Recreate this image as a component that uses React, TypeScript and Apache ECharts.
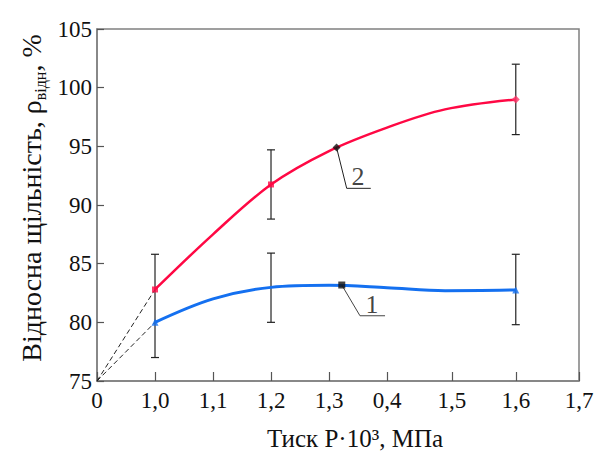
import React, { useEffect, useRef } from "react";
import * as echarts from "echarts";

// x axis is drawn in "position" units (the original axis is broken after 0)
const xTickLabels = ["0", "1,0", "1,1", "1,2", "1,3", "0,4", "1,5", "1,6", "1,7"];
const xTickPos = [0, 1, 2, 3, 4, 5, 6.12, 7.22, 8.31];

// curve 2 (red) and curve 1 (blue): [position, %]
const curve2 = [[1, 82.8], [2, 87.5], [3, 91.75], [4, 94.6], [5, 96.6], [6, 98.15], [7.22, 99.0]];
const curve1 = [[1, 80.0], [2, 82.0], [3, 82.98], [4, 83.15], [5, 82.95], [6, 82.7], [7.22, 82.76]];

const red2Points = [[1, 82.8], [3, 91.75]];
const red2End = [[7.22, 99.0]];
const blue1Points = [[1, 80.0], [7.22, 82.76]];
const keyMarker2 = [[4.13, 94.9]];
const keyMarker1 = [[4.22, 83.18]];

// error bars: [position, low, high]
const errorBars = [
  [1, 77.0, 85.8],
  [3, 88.8, 94.7],
  [3, 80.0, 85.9],
  [7.22, 96.0, 102.0],
  [7.22, 79.8, 85.8],
];

// extrapolation dashed lines
const dash2 = [[0, 75], [1, 82.8]];
const dash1 = [[0, 75], [1, 80.0]];

// leaders for labels
const leader2 = [[4.13, 94.9], [4.305, 91.42], [4.72, 91.42]];
const leader1 = [[4.22, 83.18], [4.534, 80.56], [4.966, 80.56]];
const labelPts = [
  { value: [4.5, 92.45], name: "2" },
  { value: [4.74, 81.5], name: "1" },
];

const FONT = "Liberation Serif, Times New Roman, serif";

export default function App() {
  const ref = useRef<HTMLDivElement>(null);
  useEffect(() => {
    if (!ref.current) return;
    const chart = echarts.init(ref.current, undefined, { renderer: "svg" });
    const fmtX = (v: number) => {
      let best = 0;
      for (let i = 0; i < xTickPos.length; i++) {
        if (Math.abs(xTickPos[i] - v) < Math.abs(xTickPos[best] - v)) best = i;
      }
      return xTickLabels[best];
    };
    chart.setOption({
      animation: false,
      backgroundColor: "#ffffff",
      textStyle: { fontFamily: FONT },
      grid: {
        left: 97,
        top: 29,
        right: 20,
        bottom: 71,
        show: true,
        borderColor: "#808080",
        borderWidth: 1.5,
        backgroundColor: "transparent",
      },
      xAxis: {
        type: "value",
        min: 0,
        max: 8.31,
        axisLine: { show: true, lineStyle: { color: "#808080", width: 1.5 } },
        axisTick: {
          show: true,
          inside: true,
          length: 9,
          customValues: xTickPos,
          lineStyle: { color: "#555", width: 1.2 },
        },
        axisLabel: {
          customValues: xTickPos,
          formatter: fmtX,
          color: "#111",
          fontSize: 23,
          fontFamily: FONT,
          margin: 8,
        },
        splitLine: { show: false },
      },
      yAxis: {
        type: "value",
        min: 75,
        max: 105,
        interval: 5,
        axisLine: { show: true, lineStyle: { color: "#808080", width: 1.5 } },
        axisTick: { show: true, inside: true, length: 7, lineStyle: { color: "#555", width: 1.2 } },
        axisLabel: { color: "#111", fontSize: 23, fontFamily: FONT, margin: 5 },
        splitLine: { show: false },
      },
      graphic: [
        {
          type: "text",
          x: 355,
          y: 438,
          style: {
            text: "Тиск P·10³, МПа",
            fontSize: 25,
            fontFamily: FONT,
            fill: "#111",
            align: "center",
            verticalAlign: "middle",
          },
        },
        {
          type: "text",
          x: 31,
          y: 198,
          rotation: Math.PI / 2,
          style: {
            text: "{a|Відносна щільність, ρ}{s|відн}{a|, %}",
            align: "center",
            verticalAlign: "middle",
            rich: {
              a: { fontSize: 28, fontFamily: FONT, fill: "#111", lineHeight: 34, verticalAlign: "middle" },
              s: { fontSize: 16, fontFamily: FONT, fill: "#111", lineHeight: 16, verticalAlign: "bottom" },
            },
          },
        },
      ],
      series: [
        {
          type: "line",
          data: dash2,
          symbol: "none",
          lineStyle: { color: "#222", width: 1, type: [5, 3] },
          z: 1,
        },
        {
          type: "line",
          data: dash1,
          symbol: "none",
          lineStyle: { color: "#222", width: 1, type: [5, 3] },
          z: 1,
        },
        {
          type: "custom",
          data: errorBars,
          z: 2,
          renderItem: (params: any, api: any) => {
            const x = api.value(0);
            const lo = api.coord([x, api.value(1)]);
            const hi = api.coord([x, api.value(2)]);
            const w = 4;
            const style = { stroke: "#222", lineWidth: 1.2 };
            return {
              type: "group",
              children: [
                { type: "line", shape: { x1: lo[0], y1: lo[1], x2: hi[0], y2: hi[1] }, style },
                { type: "line", shape: { x1: hi[0] - w, y1: hi[1], x2: hi[0] + w, y2: hi[1] }, style },
                { type: "line", shape: { x1: lo[0] - w, y1: lo[1], x2: lo[0] + w, y2: lo[1] }, style },
              ],
            };
          },
        },
        {
          type: "line",
          data: curve2,
          smooth: 0.35,
          symbol: "none",
          lineStyle: { color: "#ff0844", width: 2.5 },
          z: 3,
        },
        {
          type: "line",
          data: curve1,
          smooth: 0.35,
          symbol: "none",
          lineStyle: { color: "#1470f0", width: 3 },
          z: 3,
        },
        {
          type: "scatter",
          data: red2Points,
          symbol: "rect",
          symbolSize: 6,
          itemStyle: { color: "#ff0844" },
          z: 4,
        },
        {
          type: "scatter",
          data: red2End,
          symbol: "diamond",
          symbolSize: 8,
          itemStyle: { color: "#ff3366" },
          z: 4,
        },
        {
          type: "scatter",
          data: blue1Points,
          symbol: "triangle",
          symbolSize: 7,
          itemStyle: { color: "#1470f0" },
          z: 4,
        },
        {
          type: "line",
          data: leader2,
          symbol: "none",
          lineStyle: { color: "#222", width: 1 },
          z: 4,
        },
        {
          type: "line",
          data: leader1,
          symbol: "none",
          lineStyle: { color: "#444", width: 1 },
          z: 4,
        },
        {
          type: "scatter",
          data: keyMarker2,
          symbol: "diamond",
          symbolSize: 8,
          itemStyle: { color: "#111" },
          z: 5,
        },
        {
          type: "scatter",
          data: keyMarker1,
          symbol: "rect",
          symbolSize: 7,
          itemStyle: { color: "#111" },
          z: 5,
        },
        {
          type: "scatter",
          data: labelPts,
          symbolSize: 0,
          z: 5,
          label: {
            show: true,
            position: "inside",
            formatter: (p: any) => p.name,
            color: "#111",
            fontSize: 26,
            fontFamily: FONT,
          },
        },
      ],
    });
    return () => chart.dispose();
  }, []);
  return (
    <div
      ref={ref}
      style={{ position: "fixed", left: 0, top: 0, width: 599, height: 452, background: "#fff" }}
    />
  );
}
